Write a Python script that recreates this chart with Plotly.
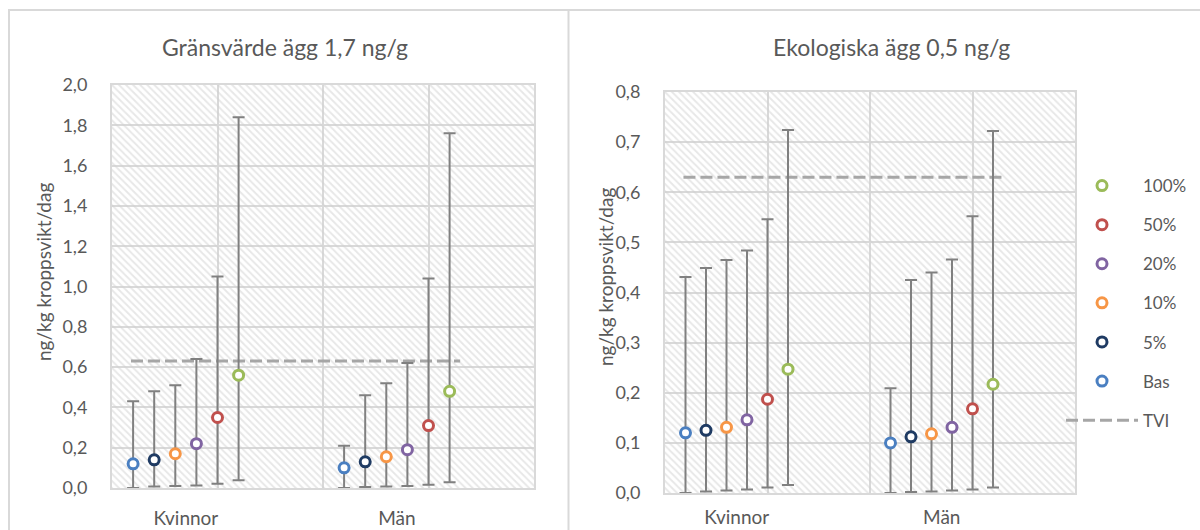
import plotly.graph_objects as go

# ---------------- data ----------------
SERIES = ["Bas", "5%", "10%", "20%", "50%", "100%"]
GROUPS = ["Kvinnor", "Män"]
COLORS = ["#4A7FC1", "#1F3B63", "#F79646", "#8064A2", "#C0504D", "#9BBB59"]

# Left chart: Gränsvärde ägg 1,7 ng/g
L_K_MEAN = [0.12, 0.14, 0.17, 0.22, 0.35, 0.56]
L_K_LOW = [0.0, 0.007, 0.01, 0.013, 0.021, 0.038]
L_K_HIGH = [0.43, 0.48, 0.51, 0.64, 1.05, 1.84]
L_M_MEAN = [0.10, 0.13, 0.155, 0.19, 0.31, 0.48]
L_M_LOW = [0.0, 0.005, 0.007, 0.01, 0.016, 0.028]
L_M_HIGH = [0.21, 0.46, 0.52, 0.62, 1.04, 1.76]

# Right chart: Ekologiska ägg 0,5 ng/g
R_K_MEAN = [0.12, 0.125, 0.131, 0.146, 0.187, 0.247]
R_K_LOW = [0.0, 0.003, 0.005, 0.007, 0.011, 0.016]
R_K_HIGH = [0.431, 0.449, 0.465, 0.484, 0.546, 0.724]
R_M_MEAN = [0.10, 0.112, 0.118, 0.131, 0.168, 0.217]
R_M_LOW = [0.0, 0.002, 0.003, 0.005, 0.007, 0.011]
R_M_HIGH = [0.209, 0.425, 0.44, 0.466, 0.552, 0.722]

TVI = 0.63
TITLES = ["Gränsvärde ägg 1,7 ng/g", "Ekologiska ägg 0,5 ng/g"]
Y_TITLE = "ng/kg kroppsvikt/dag"
LEGEND_RANK = {"100%": 1, "50%": 2, "20%": 3, "10%": 4, "5%": 5, "Bas": 6, "TVI": 7}

# ---------------- layout constants ----------------
W, H = 1200, 530
FONT = "Lato, 'Open Sans', sans-serif"
TXT = "#595959"
GRID = "#D9D9D9"
GROUP_BASE = [0.0, 2.0]
OFFSETS = [0.2, 0.4, 0.6, 0.8, 1.0, 1.2]
X_RANGE = [0, 4]
TVI_X = [0.18, 3.3]
LABEL_POS = [0.7, 2.7]

fig = go.Figure()

charts = [
    dict(xa="x", ya="y", ymax=2.0, dtick=0.2,
         k=(L_K_MEAN, L_K_LOW, L_K_HIGH), m=(L_M_MEAN, L_M_LOW, L_M_HIGH), legend=False),
    dict(xa="x2", ya="y2", ymax=0.8, dtick=0.1,
         k=(R_K_MEAN, R_K_LOW, R_K_HIGH), m=(R_M_MEAN, R_M_LOW, R_M_HIGH), legend=True),
]

for c in charts:
    # hatched plot-area background
    fig.add_trace(go.Scatter(
        x=[X_RANGE[0], X_RANGE[1], X_RANGE[1], X_RANGE[0], X_RANGE[0]],
        y=[0, 0, c["ymax"], c["ymax"], 0],
        xaxis=c["xa"], yaxis=c["ya"], mode="none", fill="toself",
        fillcolor="rgba(0,0,0,0)",
        fillpattern=dict(shape="\\", fgcolor="#D0D0D0", bgcolor="rgba(0,0,0,0)",
                         size=5, solidity=0.38),
        hoverinfo="skip", showlegend=False))
    # TVI line
    fig.add_trace(go.Scatter(
        x=TVI_X, y=[TVI, TVI], xaxis=c["xa"], yaxis=c["ya"], mode="lines",
        line=dict(color="#A6A6A6", width=3, dash="12px,5px"),
        name="TVI", legendgroup="TVI", legendrank=LEGEND_RANK["TVI"],
        showlegend=c["legend"]))
    kmean, klow, khigh = c["k"]
    mmean, mlow, mhigh = c["m"]
    for i, s in enumerate(SERIES):
        ys = [kmean[i], mmean[i]]
        hi = [khigh[i] - kmean[i], mhigh[i] - mmean[i]]
        lo = [kmean[i] - klow[i], mmean[i] - mlow[i]]
        fig.add_trace(go.Scatter(
            x=[GROUP_BASE[0] + OFFSETS[i], GROUP_BASE[1] + OFFSETS[i]], y=ys,
            xaxis=c["xa"], yaxis=c["ya"], mode="markers", name=s,
            legendgroup=s, legendrank=LEGEND_RANK[s], showlegend=c["legend"],
            marker=dict(symbol="circle", size=10, color="white",
                        line=dict(color=COLORS[i], width=3)),
            error_y=dict(type="data", symmetric=False, array=hi, arrayminus=lo,
                         color="#808080", thickness=2, width=6)))

def xaxis(domain, ticklen):
    return dict(domain=domain, range=X_RANGE, tickmode="array", tickvals=LABEL_POS,
                ticktext=GROUPS, showgrid=False, zeroline=False,
                showline=True, mirror=True, linecolor=GRID, linewidth=2,
                ticks="outside", ticklen=ticklen, tickcolor="rgba(0,0,0,0)",
                tickfont=dict(family=FONT, size=19, color=TXT),
                minor=dict(tickmode="array", tickvals=[1, 2, 3], showgrid=True,
                           gridcolor=GRID, gridwidth=2, ticks=""),
                automargin=False, fixedrange=True)

def yaxis(domain, ymax, dtick, anchor):
    return dict(domain=domain, range=[0, ymax], dtick=dtick, tick0=0, tickformat=".1f",
                showgrid=True, gridcolor=GRID, gridwidth=2, zeroline=False,
                showline=True, mirror=True, linecolor=GRID, linewidth=2,
                ticks="outside", ticklen=19, tickcolor="rgba(0,0,0,0)",
                tickfont=dict(family=FONT, size=18, color=TXT), anchor=anchor,
                automargin=False, fixedrange=True)

fig.update_layout(
    width=W, height=H, margin=dict(l=0, r=0, t=0, b=0, pad=0, autoexpand=False),
    paper_bgcolor="white", plot_bgcolor="white",
    separators=", ",
    font=dict(family=FONT, color=TXT),
    xaxis=xaxis([112 / W, 534 / W], 12) | dict(anchor="y"),
    yaxis=yaxis([1 - 488 / H, 1 - 85 / H], 2.0, 0.2, "x"),
    xaxis2=xaxis([665 / W, 1075 / W], 6) | dict(anchor="y2"),
    yaxis2=yaxis([1 - 493 / H, 1 - 92 / H], 0.8, 0.1, "x2"),
    legend=dict(x=1061 / W, y=1 - 168 / H, xanchor="left", yanchor="top",
                traceorder="grouped", tracegroupgap=14, itemwidth=72,
                font=dict(family=FONT, size=17, color=TXT),
                bgcolor="rgba(0,0,0,0)", borderwidth=0),
    showlegend=True,
)

# panel borders
border = dict(color=GRID, width=2)
fig.add_shape(type="line", xref="paper", yref="paper", x0=8 / W, x1=1, y0=1 - 10 / H, y1=1 - 10 / H, line=border)
fig.add_shape(type="line", xref="paper", yref="paper", x0=9 / W, x1=9 / W, y0=0, y1=1 - 10 / H, line=border)
fig.add_shape(type="line", xref="paper", yref="paper", x0=568.5 / W, x1=568.5 / W, y0=0, y1=1 - 10 / H, line=border)

# titles
for txt, xc in zip(TITLES, [285, 891]):
    fig.add_annotation(text=txt, x=xc / W, y=1 - 47 / H, xref="paper", yref="paper",
                       showarrow=False, xanchor="center", yanchor="middle",
                       font=dict(family=FONT, size=23, color=TXT))
# y-axis titles
for xc, yc in [(43, 272), (605, 277)]:
    fig.add_annotation(text=Y_TITLE, x=xc / W, y=1 - yc / H, xref="paper", yref="paper",
                       showarrow=False, textangle=-90, xanchor="center", yanchor="middle",
                       font=dict(family=FONT, size=19, color=TXT))

fig.write_html("out.html")
